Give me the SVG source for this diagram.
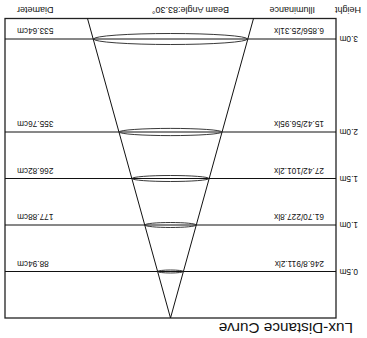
<svg xmlns="http://www.w3.org/2000/svg" width="367" height="338" viewBox="0 0 367 338">
<style>
.ln{stroke:#111;stroke-width:1;fill:none}
.box{stroke:#222;stroke-width:1.3;fill:none}
.el{stroke:#222;stroke-width:0.9;fill:none}
.t{font-family:"Liberation Sans",Arial,sans-serif;fill:#111}
.h{font-size:9px}
.v{font-size:8.3px}
.r{font-size:8.3px}
.ttl{font-size:15.3px}
</style>
<rect width="367" height="338" fill="#fff"/>
<g transform="rotate(180 183.5 169)">
  <text class="t ttl" x="14" y="15.5">Lux-Distance Curve</text>
  <g id="frame">
    <rect class="box" x="31" y="20" width="331" height="299.5"/>
  </g>
  <g id="cone">
    <polyline class="ln" points="113.5,319.5 196.5,20 279.5,319.5"/>
  </g>
  <g id="row-0.5">
    <line class="ln" x1="31" y1="66.5" x2="362" y2="66.5"/>
    <ellipse class="el" cx="196.5" cy="66.5" rx="12.8" ry="1.5" stroke-width="1.4"/>
    <text class="t r" x="9" y="69.5">0.5m</text>
    <text class="t v" x="43" y="77.5">246.8/911.2lx</text>
    <text class="t v" x="350" y="77.5" text-anchor="end">88.94cm</text>
  </g>
  <g id="row-1.0">
    <line class="ln" x1="31" y1="113" x2="362" y2="113"/>
    <ellipse class="el" cx="196.5" cy="113" rx="25.6" ry="2.5"/>
    <text class="t r" x="9" y="116">1.0m</text>
    <text class="t v" x="43" y="124">61.70/227.8lx</text>
    <text class="t v" x="350" y="124" text-anchor="end">177.88cm</text>
  </g>
  <g id="row-1.5">
    <line class="ln" x1="31" y1="159.5" x2="362" y2="159.5"/>
    <ellipse class="el" cx="196.5" cy="159.5" rx="38.4" ry="3"/>
    <text class="t r" x="9" y="162.5">1.5m</text>
    <text class="t v" x="43" y="170.5">27.42/101.2lx</text>
    <text class="t v" x="350" y="170.5" text-anchor="end">266.82cm</text>
  </g>
  <g id="row-2.0">
    <line class="ln" x1="31" y1="206" x2="362" y2="206"/>
    <ellipse class="el" cx="196.5" cy="206" rx="51.2" ry="3.6"/>
    <text class="t r" x="9" y="209">2.0m</text>
    <text class="t v" x="43" y="217">15.42/56.95lx</text>
    <text class="t v" x="350" y="217" text-anchor="end">355.76cm</text>
  </g>
  <g id="row-3.0">
    <line class="ln" x1="31" y1="299" x2="362" y2="299"/>
    <ellipse class="el" cx="196.5" cy="299" rx="76.9" ry="5.5"/>
    <text class="t r" x="9" y="302">3.0m</text>
    <text class="t v" x="43" y="310">6.856/25.31lx</text>
    <text class="t v" x="350" y="310" text-anchor="end">533.64cm</text>
  </g>
  <g id="headers">
    <text class="t h" x="6" y="331.5">Height</text>
    <text class="t h" x="52" y="331.5">Illuminance</text>
    <text class="t h" x="138" y="331.5">Beam Angle:83.30°</text>
    <text class="t h" x="350" y="331.5" text-anchor="end">Diameter</text>
  </g>
</g>
</svg>
